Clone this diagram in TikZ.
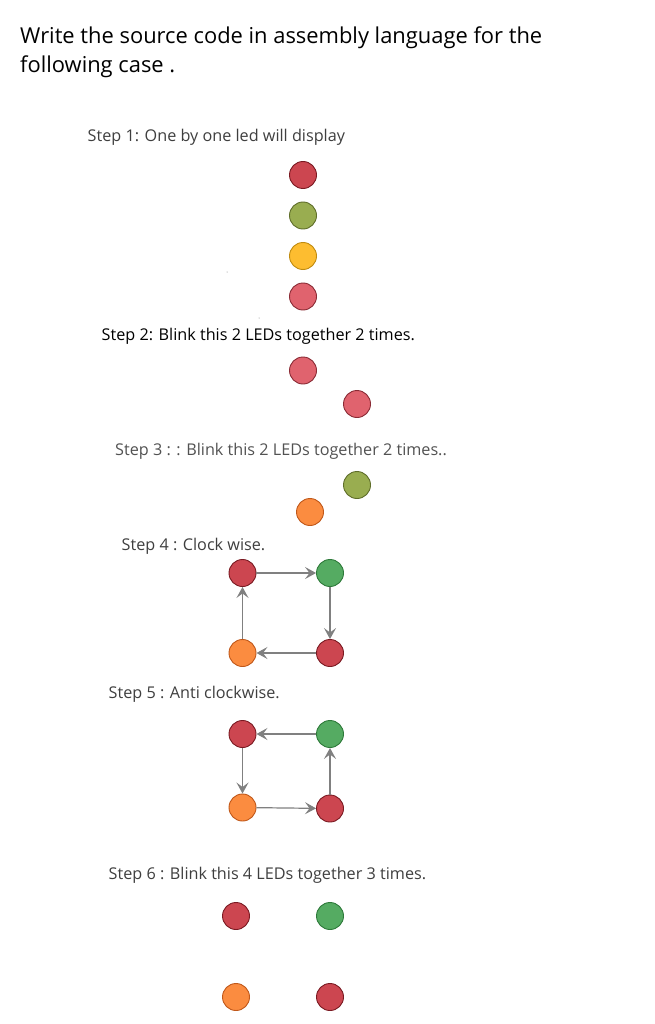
\documentclass[tikz,border=0pt]{standalone}
\usepackage{fontspec}
\setmainfont{Open Sans}
\usetikzlibrary{arrows.meta}
\definecolor{ledred}{HTML}{CC4650}\definecolor{ledredB}{HTML}{7A1A22}
\definecolor{ledolive}{HTML}{99AD50}\definecolor{ledoliveB}{HTML}{5F6E2A}
\definecolor{ledyellow}{HTML}{FDBD30}\definecolor{ledyellowB}{HTML}{C08B10}
\definecolor{ledpink}{HTML}{E0636E}\definecolor{ledpinkB}{HTML}{8A2B35}
\definecolor{ledgreen}{HTML}{55AB62}\definecolor{ledgreenB}{HTML}{2E7A3A}
\definecolor{ledorange}{HTML}{FB8C40}\definecolor{ledorangeB}{HTML}{C0581A}
\definecolor{labelgray}{HTML}{3F3F3F}
\definecolor{arrowgray}{HTML}{808080}
\tikzset{
  led/.style={circle,minimum size=27pt,inner sep=0pt,line width=0.9pt},
  red/.style={led,fill=ledred,draw=ledredB},
  olive/.style={led,fill=ledolive,draw=ledoliveB},
  yellow/.style={led,fill=ledyellow,draw=ledyellowB},
  pink/.style={led,fill=ledpink,draw=ledpinkB},
  green/.style={led,fill=ledgreen,draw=ledgreenB},
  orange/.style={led,fill=ledorange,draw=ledorangeB},
  steplabel/.style={anchor=base west,inner sep=0pt,text=labelgray,font=\fontsize{16.2}{19}\selectfont},
  flow/.style={draw=arrowgray,line width=1.2pt,-{Stealth[length=11pt,width=12pt,inset=4.5pt]}},
}
\begin{document}
\begin{tikzpicture}[x=1pt,y=-1pt]
\useasboundingbox (0,0) rectangle (654,1024);
\fill[white] (0,0) rectangle (654,1024);
% title
\node[anchor=base west,inner sep=0pt,font=\fontsize{21.9}{29}\selectfont] (t1) at (20,44) {Write the source code in assembly language for the};
\node[anchor=base west,inner sep=0pt,font=\fontsize{21.9}{29}\selectfont] (t2) at (20,73) {following case .};
% step 1
\node[steplabel] (s1) at (87.5,141.5) {Step 1: One by one led will display};
\node[red] (a1) at (303,175) {};
\node[olive] (a2) at (303,215.5) {};
\node[yellow] (a3) at (303,256) {};
\node[pink] (a4) at (303,296.5) {};
\fill[gray] (227,272) circle (0.5);
\fill[gray] (259,318) circle (0.5);
% step 2
\node[steplabel,text=black] (s2) at (101.5,340.5) {Step 2: Blink this 2 LEDs together 2 times.};
\node[pink] (b1) at (303,370.5) {};
\node[pink] (b2) at (357,404) {};
% step 3
\node[steplabel,text=labelgray!90] (s3) at (115,455) {Step 3 : : Blink this 2 LEDs together 2 times..};
\node[olive] (c1) at (357,485) {};
\node[orange] (c2) at (310,512) {};
% step 4
\node[steplabel] (s4) at (121.5,550.5) {Step 4 : Clock wise.};
\node[red] (d1) at (242.5,573) {};
\node[green] (d2) at (330,573) {};
\node[red] (d3) at (330,653) {};
\node[orange] (d4) at (242.5,653) {};
\draw[flow] (d1) -- (d2);
\draw[flow] (d2) -- (d3);
\draw[flow] (d3) -- (d4);
\draw[flow] (d4) -- (d1);
% step 5
\node[steplabel] (s5) at (108.5,698) {Step 5 : Anti clockwise.};
\node[red] (e1) at (242.5,734) {};
\node[green] (e2) at (330,734) {};
\node[red] (e3) at (330,808.5) {};
\node[orange] (e4) at (242.5,807.5) {};
\draw[flow] (e2) -- (e1);
\draw[flow] (e1) -- (e4);
\draw[flow] (e4) -- (e3);
\draw[flow] (e3) -- (e2);
% step 6
\node[steplabel] (s6) at (108.5,879) {Step 6 : Blink this 4 LEDs together 3 times.};
\node[red] (f1) at (236,916) {};
\node[green] (f2) at (330,916) {};
\node[orange] (f3) at (236,997) {};
\node[red] (f4) at (330,997) {};
\end{tikzpicture}
\end{document}
